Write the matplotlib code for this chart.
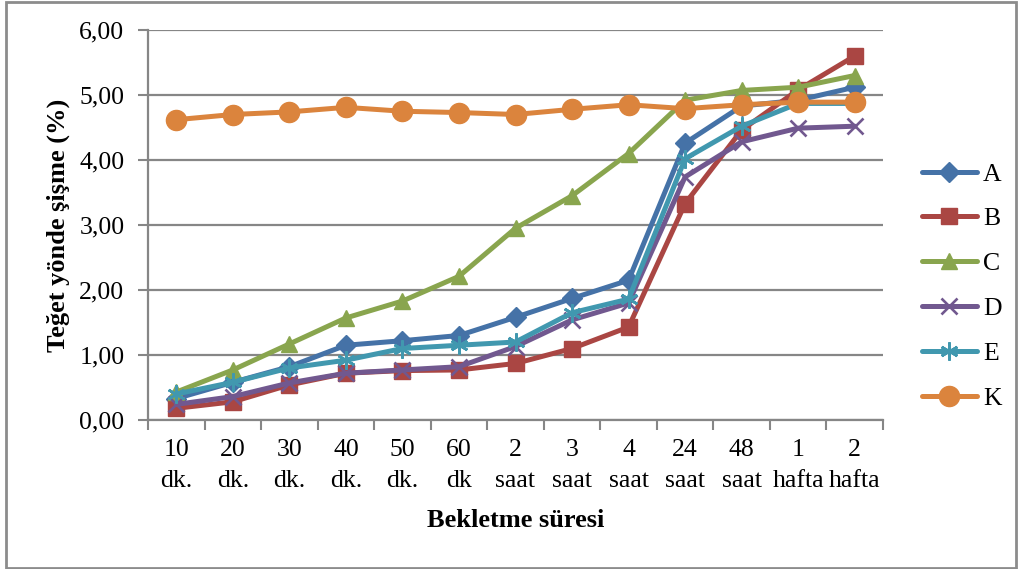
import matplotlib
matplotlib.use("Agg")
import matplotlib.pyplot as plt
from matplotlib.patches import Rectangle

plt.rcParams['font.family'] = ['Liberation Serif', 'DejaVu Serif']

# Bekletme süreleri (kategori etiketleri)
categories = ['10\ndk.', '20\ndk.', '30\ndk.', '40\ndk.', '50\ndk.', '60\ndk',
              '2\nsaat', '3\nsaat', '4\nsaat', '24\nsaat', '48\nsaat',
              '1\nhafta', '2\nhafta']

# Teğet yönde şişme (%) değerleri
A = [0.33, 0.58, 0.82, 1.15, 1.22, 1.30, 1.58, 1.87, 2.15, 4.26, 4.83, 4.92, 5.12]
B = [0.18, 0.28, 0.54, 0.72, 0.76, 0.77, 0.87, 1.10, 1.43, 3.33, 4.46, 5.08, 5.60]
C = [0.43, 0.77, 1.17, 1.57, 1.83, 2.21, 2.95, 3.45, 4.10, 4.92, 5.07, 5.12, 5.30]
D = [0.24, 0.36, 0.57, 0.72, 0.77, 0.82, 1.13, 1.54, 1.80, 3.74, 4.28, 4.49, 4.52]
E = [0.40, 0.58, 0.80, 0.92, 1.10, 1.15, 1.20, 1.65, 1.86, 4.02, 4.52, 4.87, 4.87]
K = [4.62, 4.70, 4.74, 4.81, 4.75, 4.73, 4.70, 4.78, 4.85, 4.79, 4.85, 4.89, 4.89]

series = [('A', A, '#4572A7', 'D', 10.5),
          ('B', B, '#AA4643', 's', 11),
          ('C', C, '#89A54E', '^', 12),
          ('D', D, '#71588F', 'x', 12),
          ('E', E, '#4198AF', (6, 2, 0), 13),
          ('K', K, '#DB843D', 'o', 14.5)]

fig = plt.figure(figsize=(10.23, 5.69), dpi=100)
ax = fig.add_axes([148 / 1023, 1 - 420 / 569, (883 - 148) / 1023, 390 / 569])

x = list(range(len(categories)))
for name, vals, col, mk, ms in series:
    ax.plot(x, vals, color=col, lw=3.6, marker=mk, markersize=ms,
            markeredgewidth=1.9 if mk in ('x', (6, 2, 0)) else 1,
            markeredgecolor=col, markerfacecolor=col, label=name,
            solid_joinstyle='round', solid_capstyle='round')

grid_col = '#868686'
ax.set_ylim(0, 6)
ax.set_yticks([0, 1, 2, 3, 4, 5, 6])
ax.set_yticklabels([('%.2f' % v).replace('.', ',') for v in range(7)])
ax.yaxis.grid(True, color=grid_col, lw=1.6)
ax.set_axisbelow(True)

ax.set_xlim(-0.5, len(categories) - 0.5)
ax.set_xticks(x)
ax.set_xticklabels(categories, linespacing=1.5)
ax.set_xticks([i - 0.5 for i in range(len(categories) + 1)], minor=True)
ax.tick_params(axis='x', which='major', length=0, pad=14, labelsize=18.5)
ax.tick_params(axis='x', which='minor', length=7, width=1.5, color=grid_col, direction='out')
ax.tick_params(axis='y', length=7, width=1.5, color=grid_col, pad=10, labelsize=18.5)

for side in ('top', 'right'):
    ax.spines[side].set_visible(False)
for side in ('left', 'bottom'):
    ax.spines[side].set_color(grid_col)
    ax.spines[side].set_linewidth(1.6)

ax.set_xlabel('Bekletme süresi', fontsize=19, fontweight='bold', labelpad=12)
ax.set_ylabel('Teğet yönde şişme (%)', fontsize=19, fontweight='bold', labelpad=7)

ax.legend(loc='center left', bbox_to_anchor=(1.039, 0.343), frameon=False,
          fontsize=18.5, handlelength=2.14, handletextpad=0.23, labelspacing=0.85,
          borderaxespad=0)

# dış çerçeve
fig.patches.append(Rectangle((6 / 1023, 1 / 569), 1010 / 1023, 566 / 569,
                             transform=fig.transFigure, fill=False,
                             edgecolor='#8c8c8c', lw=2))

fig.savefig('out.png', dpi=100)
